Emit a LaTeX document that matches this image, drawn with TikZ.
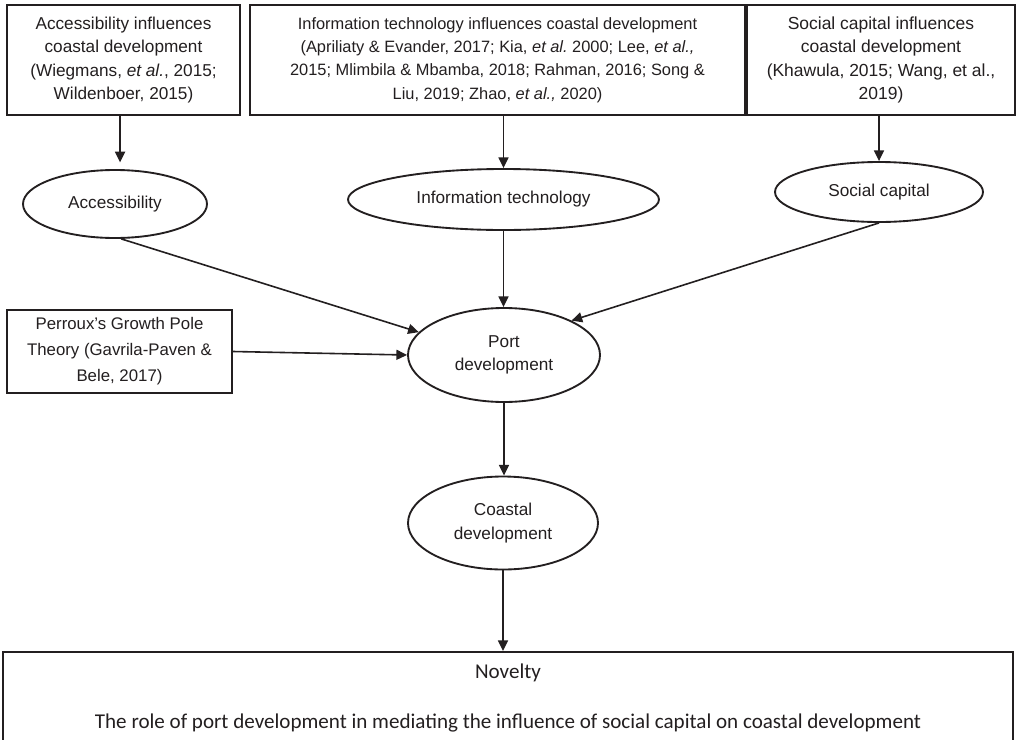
\documentclass[tikz,border=0pt]{standalone}
\usepackage{fontspec}
\setmainfont{Liberation Sans}
\newfontfamily\calib{Carlito}
\usetikzlibrary{shapes.geometric,arrows.meta}
\definecolor{ink}{HTML}{231F20}
\begin{document}
\begin{tikzpicture}[x=0.75pt,y=-0.75pt,
  box/.style={draw=ink, text=ink, line width=1.5pt, rectangle, inner sep=0pt, align=center},
  ell/.style={draw=ink, text=ink, line width=1.4pt, ellipse, inner sep=0pt, align=center,
    font=\fontsize{12.9}{17.4}\selectfont},
  arr/.style={draw=ink, line width=1.2pt, -{Triangle[length=8pt,width=7.5pt]}}]
\clip (0,0) rectangle (1016,739);
\fill[white] (0,0) rectangle (1016,739);

% top boxes
\node[box, minimum width=174.75pt, minimum height=82.5pt, font=\fontsize{12.9}{17.4}\selectfont]
  (box1) at (123.5,60) {Accessibility influences\\coastal development\\(Wiegmans, \textit{et al.}, 2015;\\Wildenboer, 2015)};
\node[box, minimum width=371.25pt, minimum height=82.5pt, font=\fontsize{12.3}{17.5}\selectfont]
  (box2) at (497.5,60) {Information technology influences coastal development\\(Apriliaty \& Evander, 2017; Kia, \textit{et al.}\ 2000; Lee, \textit{et al.,}\\2015; Mlimbila \& Mbamba, 2018; Rahman, 2016; Song \&\\Liu, 2019; Zhao, \textit{et al.,} 2020)};
\node[box, minimum width=201pt, minimum height=82.5pt, font=\fontsize{13.1}{17.4}\selectfont]
  (box3) at (881,60) {Social capital influences\\coastal development\\(Khawula, 2015; Wang, et al.,\\2019)};

% ellipses
\node[ell, minimum width=138pt, minimum height=51pt] (acc) at (115,204) {Accessibility};
\node[ell, minimum width=233.25pt, minimum height=45.75pt] (info) at (503.5,199.5) {Information technology};
\node[ell, minimum width=156pt, minimum height=45pt] (social) at (879,192) {Social capital};
\node[ell, minimum width=144pt, minimum height=70.5pt] (port) at (504,355) {Port\\development};
\node[ell, minimum width=142.5pt, minimum height=69.75pt] (coastal) at (503,523) {Coastal\\development};

% Perroux box
\node[box, minimum width=168.75pt, minimum height=62.25pt, font=\fontsize{12.6}{19.5}\selectfont]
  (perroux) at (119.5,351.5) {Perroux’s Growth Pole\\Theory (Gavrila-Paven \&\\Bele, 2017)};

% Novelty box
\node[box, minimum width=757.5pt, minimum height=69pt, font=\calib\fontsize{15.8}{19}\selectfont]
  (novelty) at (508,698) {Novelty\\[18pt]The role of port development in mediating the influence of social capital on coastal development};

% connectors
\draw[arr, shorten >=5pt] ([xshift=-2.6pt]box1.south) -- ([xshift=-2.6pt]box1.south |- acc.north);
\draw[arr] (box2.south -| info.north) -- (info.north);
\draw[arr] (box3.south -| social.north) -- (social.north);
\draw[arr] (acc.-80) -- (port.165);
\draw[arr] (info.south) -- (info.south |- port.north);
\draw[arr] (social.south) -- (port.27);
\draw[arr] (perroux.east) -- (port.west);
\draw[arr] (port.south) -- (port.south |- coastal.north);
\draw[arr] (coastal.south) -- (coastal.south |- novelty.north);
\end{tikzpicture}
\end{document}
